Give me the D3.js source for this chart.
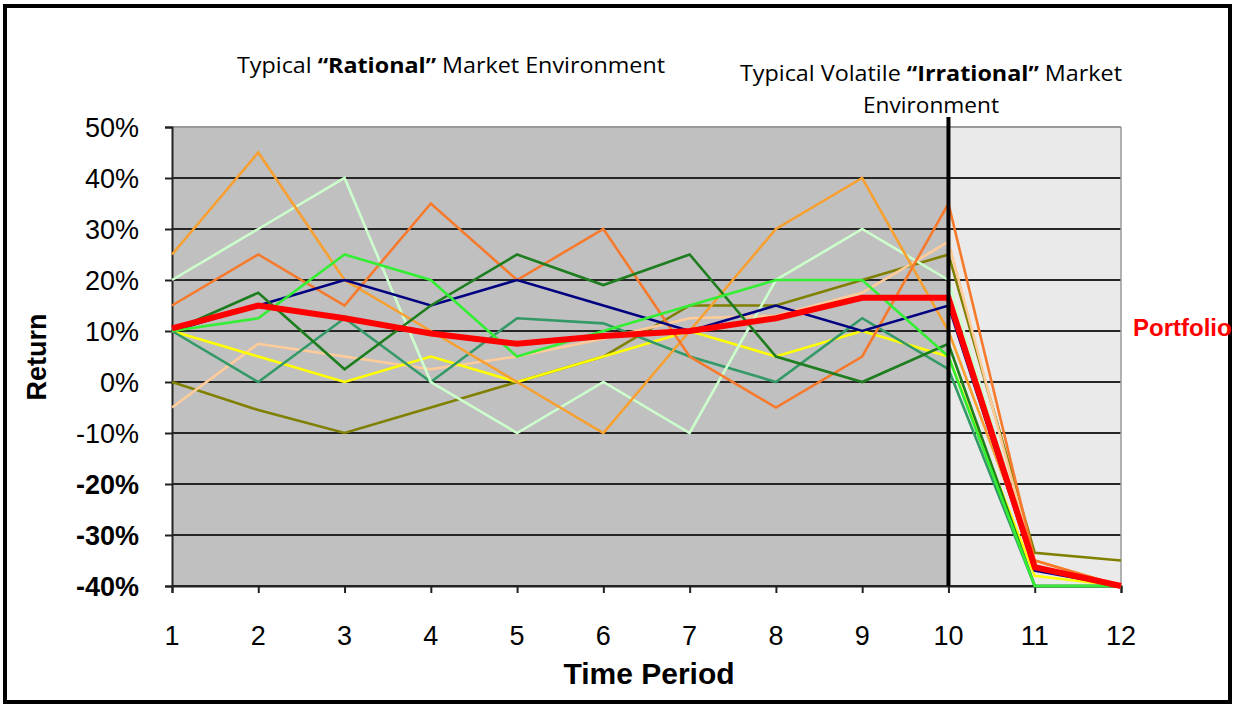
<!DOCTYPE html>
<html>
<head>
<meta charset="utf-8">
<script src="https://cdn.jsdelivr.net/npm/d3@7"></script>
<style>
  html, body { margin: 0; padding: 0; background: #fff; }
  svg { display: block; }
</style>
</head>
<body>
<svg id="chart" width="1234" height="705"></svg>
<script>
// Time periods and return series (percent)
const periods = [1, 2, 3, 4, 5, 6, 7, 8, 9, 10, 11, 12];
const yTicks = [50, 40, 30, 20, 10, 0, -10, -20, -30, -40];

const olive      = [0, -5.5, -10, -5, 0, 5, 15, 15, 20, 25, -33.5, -35];
const peach      = [-5, 7.5, 5, 2.5, 5, 8.5, 12.5, 13, 17.5, 27.5, -36, -40];
const yellow     = [10, 5, 0, 5, 0, 5, 10, 5, 10, 5, -38, -40];
const seaGreen   = [10, 0, 12.5, 0, 12.5, 11.5, 5, 0, 12.5, 2.5, -40, -40];
const paleGreen  = [20, 30, 40, 0, -10, 0, -10, 20, 30, 20, -36, -40];
const orangeLite = [25, 45, 20, 10, 0, -10, 10, 30, 40, 10, -35, -40];
const orangeDeep = [15, 25, 15, 35, 20, 30, 5, -5, 5, 35, -35, -40];
const navy       = [10, 15, 20, 15, 20, 15, 10, 15, 10, 15, -37, -40];
const forest     = [10, 17.5, 2.5, 15, 25, 19, 25, 5, 0, 7.5, -40, -40];
const lime       = [10, 12.5, 25, 20, 5, 10, 15, 20, 20, 5, -40, -40];
const portfolio  = [10.5, 15, 12.5, 9.5, 7.5, 9, 10, 12.5, 16.5, 16.5, -36.3, -40];

const seriesList = [
  { name: "olive", values: olive, color: "#808000", width: 2.6 },
  { name: "peach", values: peach, color: "#ffcc99", width: 2.6 },
  { name: "yellow", values: yellow, color: "#ffff00", width: 2.6 },
  { name: "seaGreen", values: seaGreen, color: "#339966", width: 2.6 },
  { name: "paleGreen", values: paleGreen, color: "#ccffcc", width: 2.6 },
  { name: "orangeLite", values: orangeLite, color: "#f7a030", width: 2.6 },
  { name: "orangeDeep", values: orangeDeep, color: "#f77a2c", width: 2.6 },
  { name: "navy", values: navy, color: "#000080", width: 2.6 },
  { name: "forest", values: forest, color: "#1e7d1e", width: 2.6 },
  { name: "lime", values: lime, color: "#33ee33", width: 2.6 },
  { name: "portfolio", values: portfolio, color: "#ff0000", width: 6 }
];

const svg = d3.select("#chart");
const W = 1234, H = 705;

const x = d3.scaleLinear().domain([1, 12]).range([172, 1121]);
const y = d3.scaleLinear().domain([-40, 50]).range([586, 127]);

// outer frame
svg.append("rect")
  .attr("x", 5).attr("y", 6).attr("width", W - 9).attr("height", H - 9)
  .attr("fill", "#fff").attr("stroke", "#000").attr("stroke-width", 4);

// shaded environments
svg.append("rect")
  .attr("x", x(1)).attr("y", y(50))
  .attr("width", x(10) - x(1)).attr("height", y(-40) - y(50))
  .attr("fill", "#c0c0c0");
svg.append("rect")
  .attr("x", x(10)).attr("y", y(50))
  .attr("width", x(12) - x(10)).attr("height", y(-40) - y(50))
  .attr("fill", "#eaeaea");

// horizontal gridlines
svg.append("g")
  .selectAll("line")
  .data(yTicks)
  .join("line")
  .attr("x1", x(1)).attr("x2", x(12))
  .attr("y1", d => y(d)).attr("y2", d => y(d))
  .attr("stroke", d => d === 50 ? "#9a9a9a" : "#262626")
  .attr("stroke-width", 2);

// right border of plot
svg.append("line")
  .attr("x1", x(12)).attr("x2", x(12))
  .attr("y1", y(50)).attr("y2", y(-40))
  .attr("stroke", "#9a9a9a").attr("stroke-width", 1.5);

// axes
const yAxis = d3.axisLeft(y).tickValues(yTicks).tickSize(7).tickFormat("");
const gy = svg.append("g").attr("transform", `translate(${x(1)},0)`).call(yAxis);
gy.select(".domain").attr("stroke", "#222").attr("stroke-width", 2);
gy.selectAll(".tick line").attr("stroke", "#222").attr("stroke-width", 2);

const xAxis = d3.axisBottom(x).tickValues(periods).tickSize(7).tickFormat("");
const gx = svg.append("g").attr("transform", `translate(0,${y(-40)})`).call(xAxis);
gx.select(".domain").attr("stroke", "#222").attr("stroke-width", 2);
gx.selectAll(".tick line").attr("stroke", "#222").attr("stroke-width", 2);

// y tick labels
svg.append("g")
  .selectAll("text")
  .data(yTicks)
  .join("text")
  .attr("x", 139)
  .attr("y", d => y(d) + 10)
  .attr("text-anchor", "end")
  .attr("font-family", "Liberation Sans, Arial, sans-serif")
  .attr("font-size", 27)
  .attr("font-weight", d => d <= -20 ? "bold" : "normal")
  .attr("fill", "#000")
  .text(d => d + "%");

// x tick labels
svg.append("g")
  .selectAll("text")
  .data(periods)
  .join("text")
  .attr("x", d => x(d))
  .attr("y", 645)
  .attr("text-anchor", "middle")
  .attr("font-family", "Liberation Sans, Arial, sans-serif")
  .attr("font-size", 27)
  .attr("fill", "#000")
  .text(d => d);

// axis titles
svg.append("text")
  .attr("x", 649).attr("y", 684)
  .attr("text-anchor", "middle")
  .attr("font-family", "Liberation Sans, Arial, sans-serif")
  .attr("font-size", 30).attr("font-weight", "bold")
  .text("Time Period");

svg.append("text")
  .attr("transform", "translate(46,357) rotate(-90)")
  .attr("text-anchor", "middle")
  .attr("font-family", "Liberation Sans, Arial, sans-serif")
  .attr("font-size", 27).attr("font-weight", "bold")
  .text("Return");

// series lines
const line = d3.line()
  .x((d, i) => x(periods[i]))
  .y(d => y(d));

svg.append("g")
  .selectAll("path")
  .data(seriesList)
  .join("path")
  .attr("d", s => line(s.values))
  .attr("fill", "none")
  .attr("stroke", s => s.color)
  .attr("stroke-width", s => s.width)
  .attr("stroke-linejoin", "miter");

// divider between environments
svg.append("line")
  .attr("x1", x(10)).attr("x2", x(10))
  .attr("y1", 117).attr("y2", y(-40))
  .attr("stroke", "#000").attr("stroke-width", 4);

// series label
svg.append("text")
  .attr("x", 1133).attr("y", 336)
  .attr("font-family", "Liberation Sans, Arial, sans-serif")
  .attr("font-size", 24).attr("font-weight", "bold")
  .attr("fill", "#ff0000")
  .text("Portfolio");

// environment annotations
const annFont = "'Open Sans', 'DejaVu Sans Condensed', sans-serif";
function annotate(cx, cy, parts, len) {
  const t = svg.append("text")
    .attr("x", cx).attr("y", cy)
    .attr("text-anchor", "middle")
    .attr("font-family", annFont)
    .attr("font-size", 22)
    .attr("fill", "#000");
  if (len) t.attr("textLength", len).attr("lengthAdjust", "spacingAndGlyphs");
  parts.forEach(p => t.append("tspan").attr("font-weight", p[1] ? "bold" : "normal").text(p[0]));
}
annotate(451, 73, [["Typical ", false], ["\u201cRational\u201d", true], [" Market Environment", false]], 428);
annotate(931, 81, [["Typical Volatile ", false], ["\u201cIrrational\u201d", true], [" Market", false]], 382);
annotate(931, 113, [["Environment", false]], 136);
</script>
</body>
</html>
